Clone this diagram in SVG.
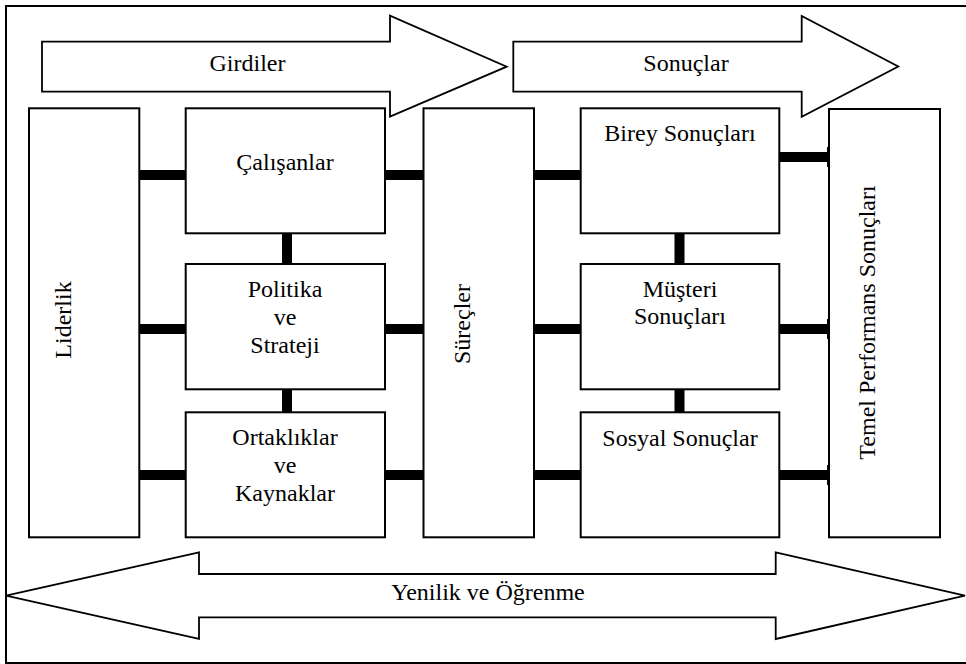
<svg xmlns="http://www.w3.org/2000/svg" width="966" height="664" viewBox="0 0 966 664">
<style>
.box{fill:#fff;stroke:#000;stroke-width:2}
.arr{fill:#fff;stroke:#000;stroke-width:1.8;stroke-linejoin:miter}
.bar{fill:#000}
</style>
<rect width="966" height="664" fill="#fff"/>
<rect x="6" y="6" width="966" height="657" fill="none" stroke="#000" stroke-width="2"/>
<g id="girdiler">
<polygon class="arr" points="42,41.7 390,41.7 390,15.7 506.7,66.7 390,116.7 390,91.7 42,91.7"/>
<text x="247.5" y="71" font-family="Liberation Serif, serif" font-size="24" text-anchor="middle">Girdiler</text>
</g>
<g id="sonuclar">
<polygon class="arr" points="513.3,41.7 801.7,41.7 801.7,16 898.3,66.5 801.7,116.7 801.7,91.7 513.3,91.7"/>
<text x="686" y="71" font-family="Liberation Serif, serif" font-size="24" text-anchor="middle">Sonuçlar</text>
</g>
<g id="connectors">
<rect class="bar" x="139" y="170" width="47" height="10"/>
<rect class="bar" x="139" y="324" width="47" height="10"/>
<rect class="bar" x="139" y="470" width="47" height="10"/>
<rect class="bar" x="385" y="170" width="39" height="10"/>
<rect class="bar" x="385" y="324" width="39" height="10"/>
<rect class="bar" x="385" y="470" width="39" height="10"/>
<rect class="bar" x="534" y="170" width="47" height="10"/>
<rect class="bar" x="534" y="324" width="47" height="10"/>
<rect class="bar" x="534" y="470" width="47" height="10"/>
<rect class="bar" x="779" y="152" width="50" height="10"/>
<rect class="bar" x="779" y="324" width="50" height="10"/>
<rect class="bar" x="779" y="470" width="50" height="10"/>
<rect class="bar" x="827" y="147" width="2" height="20"/>
<rect class="bar" x="827" y="319" width="2" height="20"/>
<rect class="bar" x="827" y="465" width="2" height="20"/>
<rect class="bar" x="282" y="233" width="10" height="31"/>
<rect class="bar" x="282" y="389" width="10" height="24"/>
<rect class="bar" x="674.5" y="233" width="10" height="31"/>
<rect class="bar" x="674.5" y="389" width="10" height="24"/>
</g>
<g id="liderlik">
<rect class="box" x="29" y="108.3" width="110.3" height="429"/>
<text transform="translate(71,320) rotate(-90)" font-family="Liberation Serif, serif" font-size="24" text-anchor="middle">Liderlik</text>
</g>
<g id="calisanlar">
<rect class="box" x="185.7" y="108.3" width="199.3" height="125"/>
<text x="285" y="170" font-family="Liberation Serif, serif" font-size="24" text-anchor="middle">Çalışanlar</text>
</g>
<g id="politika" font-family="Liberation Serif, serif" font-size="24" text-anchor="middle">
<rect class="box" x="185.7" y="264" width="199.3" height="125.3"/>
<text x="285" y="296.7">Politika</text>
<text x="285" y="325">ve</text>
<text x="285" y="353.3">Strateji</text>
</g>
<g id="ortakliklar" font-family="Liberation Serif, serif" font-size="24" text-anchor="middle">
<rect class="box" x="185.7" y="412.3" width="199.3" height="125"/>
<text x="285" y="445">Ortaklıklar</text>
<text x="285" y="472.7">ve</text>
<text x="285" y="501">Kaynaklar</text>
</g>
<g id="surecler">
<rect class="box" x="423.5" y="108.3" width="110.5" height="429"/>
<text transform="translate(470,324) rotate(-90)" font-family="Liberation Serif, serif" font-size="24" text-anchor="middle">Süreçler</text>
</g>
<g id="birey">
<rect class="box" x="580.7" y="108.3" width="198.6" height="125"/>
<text x="680" y="141.3" font-family="Liberation Serif, serif" font-size="24" text-anchor="middle">Birey Sonuçları</text>
</g>
<g id="musteri" font-family="Liberation Serif, serif" font-size="24" text-anchor="middle">
<rect class="box" x="580.7" y="264" width="198.6" height="125.3"/>
<text x="680" y="296.7">Müşteri</text>
<text x="680" y="324">Sonuçları</text>
</g>
<g id="sosyal">
<rect class="box" x="580.7" y="412.3" width="198.6" height="125"/>
<text x="680" y="446" font-family="Liberation Serif, serif" font-size="24" text-anchor="middle">Sosyal Sonuçlar</text>
</g>
<g id="temel">
<rect class="box" x="829" y="109" width="111" height="428.3"/>
<text transform="translate(875,322.5) rotate(-90)" font-family="Liberation Serif, serif" font-size="24" text-anchor="middle">Temel Performans Sonuçları</text>
</g>
<g id="yenilik">
<polygon class="arr" points="6,595.7 199,552.3 199,574 775.7,574 775.7,552.3 965,595.7 775.7,639 775.7,617.3 199,617.3 199,639"/>
<text x="488" y="600" font-family="Liberation Serif, serif" font-size="24" text-anchor="middle">Yenilik ve Öğrenme</text>
</g>
</svg>
